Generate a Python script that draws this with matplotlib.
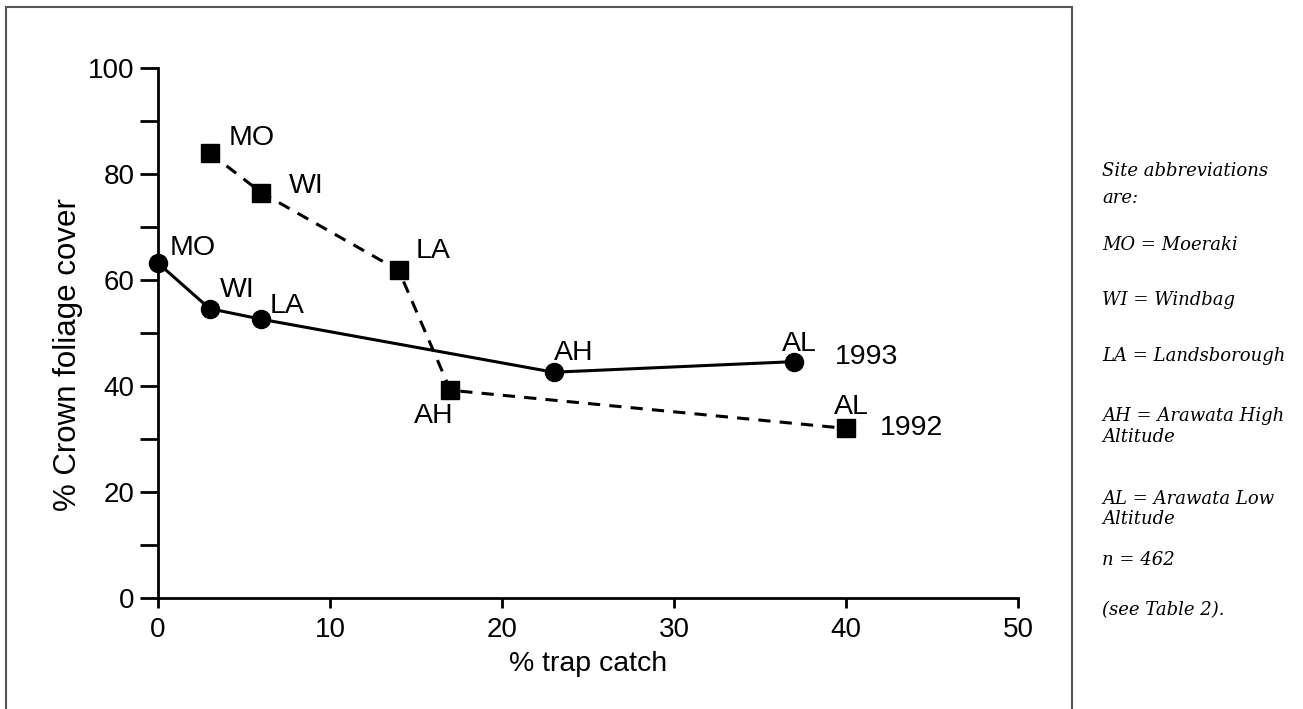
import matplotlib
matplotlib.use("Agg")
import matplotlib.pyplot as plt
from matplotlib.patches import Rectangle

plt.rcParams['font.family'] = ['Liberation Sans', 'DejaVu Sans']

# data
sites = ['MO', 'WI', 'LA', 'AH', 'AL']
catch_1993 = [0, 3, 6, 23, 37]
cover_1993 = [63.2, 54.6, 52.6, 42.6, 44.6]
catch_1992 = [3, 6, 14, 17, 40]
cover_1992 = [84.0, 76.5, 61.8, 39.2, 32.0]

# label offsets (pixels) for each site label
off_1993 = [(12, 8), (10, 12), (8, 6), (0, 12), (-12, 11)]
off_1992 = [(19, 8), (28, 0), (17, 12), (-36, -33), (-12, 14)]

notes = [
    ('Site abbreviations', 176), ('are:', 203),
    ('MO = Moeraki', 250), ('WI = Windbag', 305),
    ('LA = Landsborough', 361), ('AH = Arawata High', 421),
    ('Altitude', 442), ('AL = Arawata Low', 504), ('Altitude', 524),
    ('n = 462', 565), ('(see Table 2).', 615),
]

W, H = 1303, 709
fig = plt.figure(figsize=(W / 100, H / 100), dpi=100)
ax = fig.add_axes([158 / W, 1 - 598 / H, 860 / W, 530 / H])

ax.plot(catch_1993, cover_1993, color='black', lw=2.2, marker='o', ms=13,
        clip_on=False, zorder=3)
ax.plot(catch_1992, cover_1992, color='black', lw=2.2, ls=(0, (4, 3)),
        marker='s', ms=13, clip_on=False, zorder=3)

for s, x, y, (dx, dy) in zip(sites, catch_1993, cover_1993, off_1993):
    ax.annotate(s, (x, y), xytext=(dx, dy), textcoords='offset pixels',
                fontsize=20.5, ha='left', va='baseline')
for s, x, y, (dx, dy) in zip(sites, catch_1992, cover_1992, off_1992):
    ax.annotate(s, (x, y), xytext=(dx, dy), textcoords='offset pixels',
                fontsize=20.5, ha='left', va='baseline')

ax.annotate('1993', (catch_1993[-1], cover_1993[-1]), xytext=(40, -2),
            textcoords='offset pixels', fontsize=20.5, va='baseline')
ax.annotate('1992', (catch_1992[-1], cover_1992[-1]), xytext=(34, -7),
            textcoords='offset pixels', fontsize=20.5, va='baseline')

ax.set_xlim(0, 50)
ax.set_ylim(0, 100)
ax.set_xticks(range(0, 51, 10))
ax.set_yticks(range(0, 101, 20))
ax.set_yticks(range(10, 100, 20), minor=True)
ax.tick_params(axis='y', which='both', length=13, width=2, labelsize=20, pad=4)
ax.tick_params(axis='x', length=7, width=2, labelsize=20, pad=7)
for side in ['top', 'right']:
    ax.spines[side].set_visible(False)
for side in ['left', 'bottom']:
    ax.spines[side].set_linewidth(2)

ax.set_xlabel('% trap catch', fontsize=20.5)
ax.xaxis.set_label_coords(0.5, -0.1)
ax.set_ylabel('% Crown foliage cover', fontsize=22.5)
ax.yaxis.set_label_coords(-0.087, 0.46)

# frame around the chart
fig.add_artist(Rectangle((6 / W, -0.05), (1072 - 6) / W, 1.05 - 7 / H,
                         transform=fig.transFigure, fill=False,
                         edgecolor='#555555', lw=1.5))

for txt, yp in notes:
    fig.text(1102 / W, 1 - yp / H, txt, family='DejaVu Serif',
             style='italic', fontsize=13, va='baseline')

fig.savefig('out.png', dpi=100)
